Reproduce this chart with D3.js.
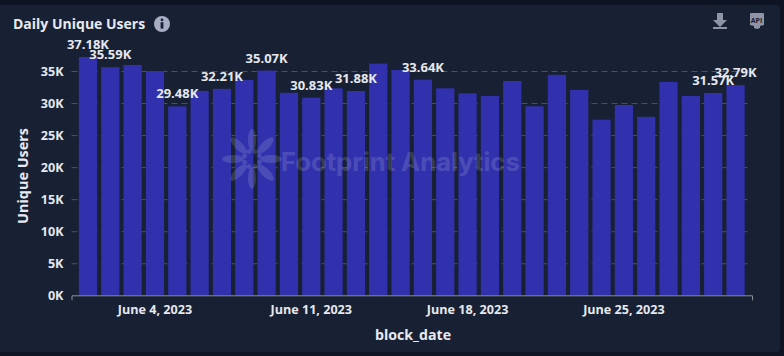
<!DOCTYPE html>
<html>
<head>
<meta charset="utf-8">
<script src="https://cdn.jsdelivr.net/npm/d3@7"></script>
<style>
    html, body { margin: 0; padding: 0; background: #0f1424; }
    svg { display: block; font-family: "Open Sans", sans-serif; font-weight: 700; }
    .axis text { fill: #e6e8ee; font-size: 12.6px; font-weight: 700; font-family: "Open Sans", sans-serif; }
    .y-axis .domain { display: none; }
    .y-axis line { stroke: #4b5160; stroke-dasharray: 6 4; }
    .x-axis .domain { stroke: #8b8f9a; }
    .bar-label { fill: #e6e8ee; font-size: 13px; text-anchor: middle; }
</style>
</head>
<body>
<div id="chart"></div>
<script>
// Labelled bars use their printed value
const dates = ["June 1, 2023", "June 2, 2023", "June 3, 2023", "June 4, 2023", "June 5, 2023", "June 6, 2023",
    "June 7, 2023", "June 8, 2023", "June 9, 2023", "June 10, 2023", "June 11, 2023", "June 12, 2023",
    "June 13, 2023", "June 14, 2023", "June 15, 2023", "June 16, 2023", "June 17, 2023", "June 18, 2023",
    "June 19, 2023", "June 20, 2023", "June 21, 2023", "June 22, 2023", "June 23, 2023", "June 24, 2023",
    "June 25, 2023", "June 26, 2023", "June 27, 2023", "June 28, 2023", "June 29, 2023", "June 30, 2023"];
const users = [37180, 35590, 35940, 35000, 29480, 31900, 32210, 33600, 35070, 31600,
    30830, 32300, 31880, 36150, 35150, 33640, 32300, 31500, 31100, 33440,
    29500, 34400, 32050, 27400, 29700, 27850, 33300, 31100, 31570, 32790];
const labelledDates = ["June 1, 2023", "June 2, 2023", "June 5, 2023", "June 7, 2023", "June 9, 2023",
    "June 11, 2023", "June 13, 2023", "June 16, 2023", "June 29, 2023", "June 30, 2023"];
const xTickDates = ["June 4, 2023", "June 11, 2023", "June 18, 2023", "June 25, 2023"];
const yTicks = [0, 5000, 10000, 15000, 20000, 25000, 30000, 35000];
const petalAngles = [0, 45, 90, 135, 180, 225, 270, 315];

const width = 784, height = 356;
const margin = {top: 40, right: 32, bottom: 61, left: 71.5};
const rows = dates.map((d, i) => ({date: d, value: users[i]}));

const svg = d3.select('#chart').append('svg')
    .attr('width', width)
    .attr('height', height);

// Card behind the chart
svg.append('rect')
    .attr('x', -6).attr('y', 5)
    .attr('width', width + 6 - 4).attr('height', 347)
    .attr('rx', 4)
    .attr('fill', '#182133');

const xScale = d3.scaleBand()
    .domain(dates)
    .range([margin.left, width - margin.right])
    .paddingInner(0.185)
    .paddingOuter(0.33);

const yScale = d3.scaleLinear()
    .domain([0, 35000])
    .range([295.3, 71]);

const yAxis = d3.axisLeft(yScale)
    .tickValues(yTicks)
    .tickSize(-(748 - margin.left))
    .tickPadding(8)
    .tickFormat(d => `${d / 1000}K`);

const xAxis = d3.axisBottom(xScale)
    .tickValues(xTickDates)
    .tickSizeInner(0)
    .tickSizeOuter(5)
    .tickPadding(10);

svg.append('g')
    .attr('class', 'axis y-axis')
    .attr('transform', `translate(${margin.left},0)`)
    .call(yAxis)
    .call(g => g.selectAll('.tick').filter(d => d === 0).select('line').remove());

svg.selectAll('.bar')
    .data(rows)
    .join('rect')
    .attr('class', 'bar')
    .attr('x', d => xScale(d.date))
    .attr('y', d => yScale(d.value))
    .attr('width', xScale.bandwidth())
    .attr('height', d => yScale(0) - yScale(d.value))
    .attr('fill', '#3131ad');

svg.append('g')
    .attr('class', 'axis x-axis')
    .attr('transform', `translate(0,${yScale(0)})`)
    .call(xAxis);

// Watermark sits on top of the bars
const mark = svg.append('g').attr('fill', '#fff').attr('opacity', 0.13);
const logo = mark.append('g').attr('transform', 'translate(252,159)');
logo.selectAll('.petal')
    .data(petalAngles)
    .join('ellipse')
    .attr('class', 'petal')
    .attr('cx', 19)
    .attr('rx', 11)
    .attr('ry', 4)
    .attr('transform', d => `rotate(${d})`);
logo.selectAll('.seed')
    .data(petalAngles)
    .join('circle')
    .attr('class', 'seed')
    .attr('cx', 8)
    .attr('r', 2.4)
    .attr('transform', d => `rotate(${d + 22})`);
mark.append('text')
    .attr('x', 281).attr('y', 171)
    .attr('font-family', 'Inter, sans-serif')
    .attr('font-size', 25.6)
    .attr('font-weight', 700)
    .text('Footprint Analytics');

svg.selectAll('.bar-label')
    .data(rows.filter(d => labelledDates.includes(d.date)))
    .join('text')
    .attr('class', 'bar-label')
    .attr('x', d => xScale(d.date) + xScale.bandwidth() / 2)
    .attr('y', d => yScale(d.value) - 8)
    .text(d => `${(d.value / 1000).toFixed(2)}K`);

// Title and axis titles
svg.append('text')
    .attr('x', 13).attr('y', 29)
    .attr('fill', '#e8eaf0')
    .attr('font-size', 14)
    .text('Daily Unique Users');

const info = svg.append('g').attr('transform', 'translate(162,24)');
info.append('circle').attr('r', 8).attr('fill', '#a9adc4');
info.append('circle').attr('cy', -4.2).attr('r', 1.4).attr('fill', '#182133');
info.append('rect').attr('x', -1.4).attr('y', -1.8).attr('width', 2.8).attr('height', 6.4).attr('fill', '#182133');

svg.append('text')
    .attr('transform', 'translate(28,176) rotate(-90)')
    .attr('text-anchor', 'middle')
    .attr('fill', '#e8eaf0')
    .attr('font-size', 14.4)
    .text('Unique Users');

svg.append('text')
    .attr('x', 413).attr('y', 340)
    .attr('text-anchor', 'middle')
    .attr('fill', '#e8eaf0')
    .attr('font-size', 14.2)
    .text('block_date');

// Toolbar icons
svg.append('path')
    .attr('d', 'M717 13h6v7h4l-7 7-7-7h4zM713 27h14v2h-14z')
    .attr('fill', '#8f93a6');
svg.append('path')
    .attr('d', 'M750 13h13a1 1 0 0 1 1 1v11l-4 1v2l-3 1-3-1v-2l-4-1v-11a1 1 0 0 1 1-1z')
    .attr('fill', '#8f93a6');
svg.append('text')
    .attr('x', 756.5).attr('y', 22.5)
    .attr('text-anchor', 'middle')
    .attr('font-size', 7)
    .attr('fill', '#182133')
    .text('API');
</script>
</body>
</html>
